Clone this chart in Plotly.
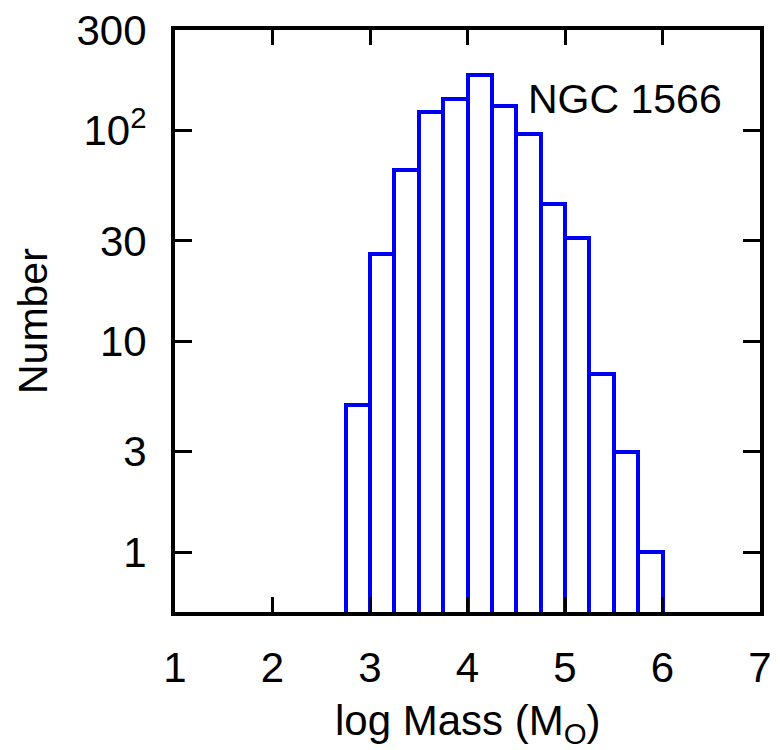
import plotly.graph_objects as go

# histogram of log cluster masses, NGC 1566
bin_left = [2.75, 3.0, 3.25, 3.5, 3.75, 4.0, 4.25, 4.5, 4.75, 5.0, 5.25, 5.5, 5.75]
counts = [5, 26, 65, 122, 142, 184, 131, 96, 45, 31, 7, 3, 1]
bin_width = 0.25

y_tickvals = [1, 3, 10, 30, 100, 300]
y_ticktext = ["1", "3", "10", "30", "10<sup>2</sup>", "300"]
x_tickvals = [1, 2, 3, 4, 5, 6, 7]

font_fam = "Liberation Sans, Arial, sans-serif"
blue = "#0000f0"

fig = go.Figure()
fig.add_trace(go.Bar(
    x=[b + bin_width / 2 for b in bin_left],
    y=counts,
    width=bin_width,
    marker=dict(color="white", line=dict(color=blue, width=4)),
    showlegend=False,
))

fig.add_annotation(x=4.6, y=2.151, xref="x", yref="y", text="NGC 1566",
                   showarrow=False, xanchor="left", yanchor="middle",
                   font=dict(size=41, color="black", family=font_fam))

# axis titles as annotations so they sit where the original has them
fig.add_annotation(x=0.5, y=0, xref="paper", yref="paper", yshift=-111,
                   text="log Mass (M<sub>O</sub>)", showarrow=False,
                   xanchor="center", yanchor="middle",
                   font=dict(size=42, color="black", family=font_fam))
fig.add_annotation(x=0, y=0.5, xref="paper", yref="paper", xshift=-142,
                   text="Number", textangle=-90, showarrow=False,
                   xanchor="center", yanchor="middle",
                   font=dict(size=41, color="black", family=font_fam))

axis_common = dict(showline=True, linecolor="black", linewidth=4, mirror="ticks",
                   ticks="inside", tickcolor="black", tickwidth=3,
                   showgrid=False, zeroline=False, automargin=False,
                   ticklabeloverflow="allow",
                   tickfont=dict(size=42, color="black", family=font_fam))

fig.update_xaxes(range=[1, 7], tickvals=x_tickvals, ticklen=15, ticklabelstandoff=16,
                 **axis_common)
fig.update_yaxes(type="log", range=[-0.283, 2.4775], tickvals=y_tickvals, ticktext=y_ticktext,
                 ticklen=17, ticklabelstandoff=16,
                 **axis_common)

fig.update_layout(width=774, height=742, plot_bgcolor="white", paper_bgcolor="white",
                  margin=dict(l=167, r=22, t=22, b=138), bargap=0)

fig.write_html("out.html")
